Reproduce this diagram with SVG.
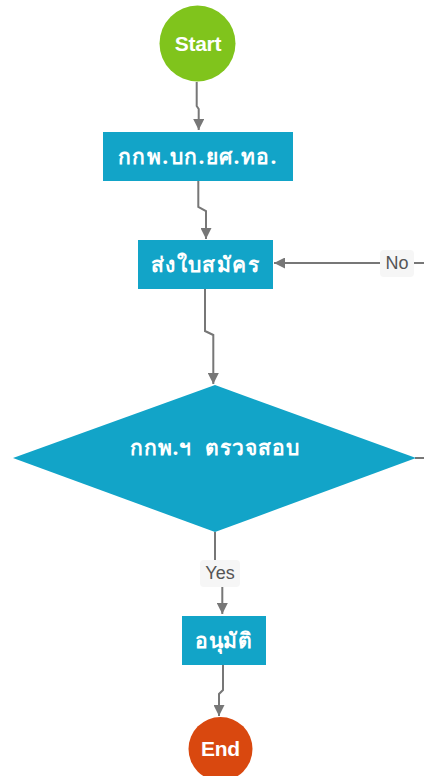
<svg xmlns="http://www.w3.org/2000/svg" width="424" height="776" viewBox="0 0 424 776">
<defs>
<marker id="arr" viewBox="0 0 10 10" refX="10" refY="5" markerWidth="11" markerHeight="11" markerUnits="userSpaceOnUse" orient="auto">
<path d="M0,0 L10,5 L0,10 z" fill="#777777"/>
</marker>
<style>
.node{fill:#12a4c8;}
.t{font-family:"Noto Sans","DejaVu Sans","Liberation Sans",sans-serif;font-weight:bold;fill:#ffffff;text-anchor:middle;dominant-baseline:central;}
.th{font-size:21px;letter-spacing:1.4px;}
.en{font-family:"Liberation Sans",Arial,sans-serif;font-size:21px;letter-spacing:-0.3px;}
.c{fill:none;stroke:#777777;stroke-width:2;}
.lbg{fill:#f6f6f6;}
.lt{font-family:"Liberation Sans",Arial,sans-serif;font-size:18px;fill:#555555;text-anchor:middle;dominant-baseline:central;}
</style>
</defs>
<rect width="424" height="776" fill="#ffffff"/>
<g id="connectors">
<path class="c" d="M196.7,82 V106 L198.7,109 V130" marker-end="url(#arr)"/>
<path class="c" d="M198.3,181 V207 L206,211 V239" marker-end="url(#arr)"/>
<path class="c" d="M205,289 V331 L213.3,335 V384" marker-end="url(#arr)"/>
<path class="c" d="M215,532 V572 L222.3,576 V614" marker-end="url(#arr)"/>
<path class="c" d="M223,665 V690 L219,694 V716" marker-end="url(#arr)"/>
<path class="c" d="M415,458 H440 V263 H274" marker-end="url(#arr)"/>
<g id="label-yes">
<rect class="lbg" x="200" y="560" width="40" height="27" rx="4"/>
<text class="lt" x="220" y="573">Yes</text>
</g>
<g id="label-no">
<rect class="lbg" x="380" y="250" width="34" height="27" rx="4"/>
<text class="lt" x="397" y="263">No</text>
</g>
</g>
<g id="start">
<circle cx="197.5" cy="43.5" r="38" fill="#80c41c"/>
<text class="t en" x="198" y="43.5">Start</text>
</g>
<g id="n1">
<rect class="node" x="103" y="132" width="190" height="49"/>
<text class="t th" x="198" y="156">กกพ.บก.ยศ.ทอ.</text>
</g>
<g id="n2">
<rect class="node" x="138" y="240" width="135" height="49"/>
<text class="t th" x="205.5" y="264">ส่งใบสมัคร</text>
</g>
<g id="decision">
<polygon class="node" points="215,385 416,458 215,532 13,458"/>
<text class="t th" x="215" y="447" style="letter-spacing:1px">กกพ.ฯ&#160; ตรวจสอบ</text>
</g>
<g id="n3">
<rect class="node" x="182" y="616" width="84" height="49"/>
<text class="t th" x="224" y="640" style="letter-spacing:0.6px">อนุมัติ</text>
</g>
<g id="end">
<circle cx="220.5" cy="749" r="32" fill="#d9480f"/>
<text class="t en" x="220.5" y="748" font-size="22">End</text>
</g>
</svg>
